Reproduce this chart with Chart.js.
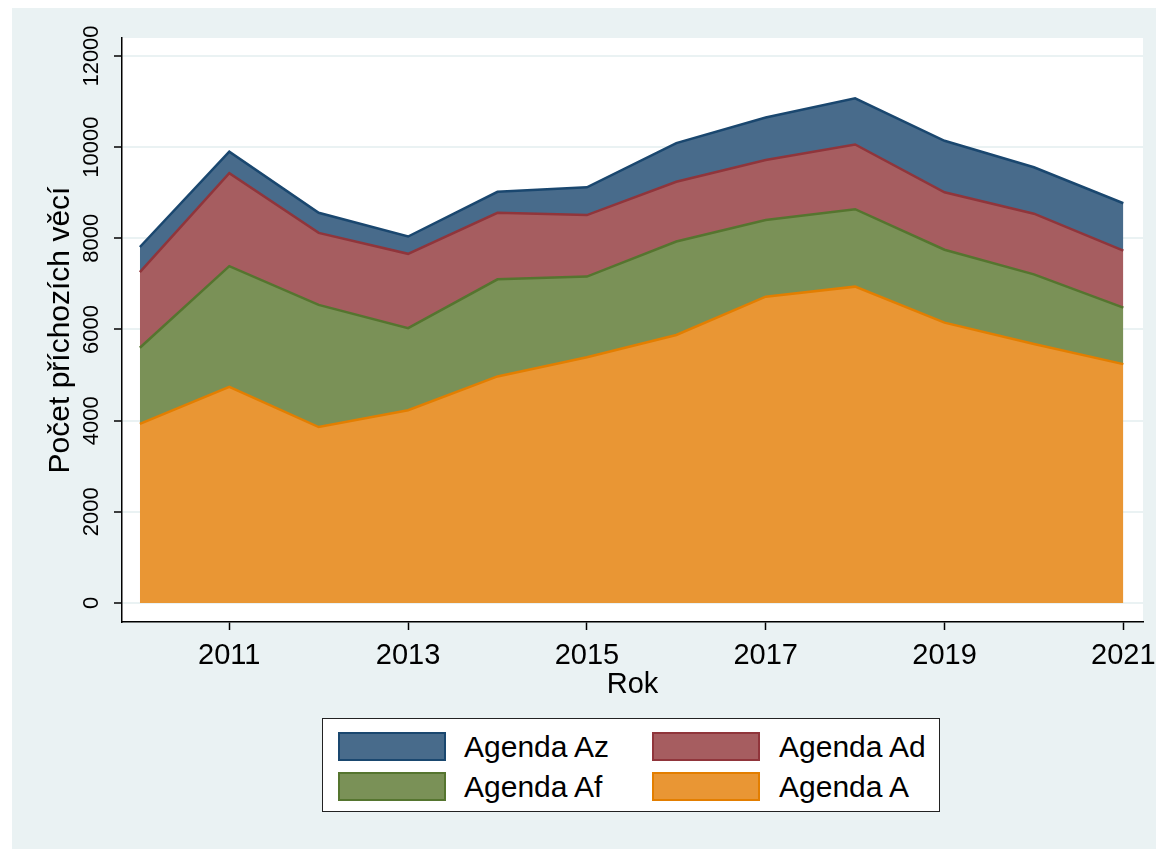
<!DOCTYPE html>
<html>
<head>
<meta charset="utf-8">
<script src="https://cdn.jsdelivr.net/npm/chart.js@4"></script>
<style>
  html, body { margin: 0; padding: 0; background: #fff; }
  body { width: 1156px; height: 849px; position: relative; overflow: hidden;
         font-family: "Liberation Sans", Arial, sans-serif; }
  #bg { position: absolute; left: 12px; top: 8px; right: 0; bottom: 0; background: #eaf2f3; }
  #chart { position: absolute; left: 0; top: 0; }
  #legend { position: absolute; left: 322px; top: 718px; width: 616px; height: 92px;
            background: #fff; border: 1.5px solid #222; }
  .sw { position: absolute; width: 104px; height: 25px; border: 2px solid; }
  .lab { position: absolute; height: 29px; line-height: 29px; font-size: 30px; color: #000; white-space: nowrap; }
</style>
</head>
<body>
<div id="bg"></div>
<canvas id="chart" width="1156" height="849"></canvas>
<div id="legend"></div>
<script>
var years = [2010, 2011, 2012, 2013, 2014, 2015, 2016, 2017, 2018, 2019, 2020, 2021];
var agendaA  = [3930, 4740, 3860, 4230, 4970, 5390, 5880, 6720, 6940, 6150, 5680, 5240];
var agendaAf = [1670, 2650, 2680, 1800, 2130, 1770, 2050, 1680, 1700, 1600, 1530, 1240];
var agendaAd = [1660, 2040, 1580, 1630, 1460, 1350, 1310, 1320, 1420, 1260, 1330, 1250];
var agendaAz = [ 550,  470,  440,  380,  460,  610,  850,  930, 1010, 1130, 1020, 1040];
var xTicks = [2011, 2013, 2015, 2017, 2019, 2021];
var yTicks = [0, 2000, 4000, 6000, 8000, 10000, 12000];

function pts(vals) {
    return vals.map(function (v, i) { return { x: years[i], y: v }; });
}

var series = [
    { label: "Agenda A",  data: agendaA,  line: "#e37e00", fill: "#e99634" },
    { label: "Agenda Af", data: agendaAf, line: "#55752f", fill: "#7a9157" },
    { label: "Agenda Ad", data: agendaAd, line: "#90353b", fill: "#a65d60" },
    { label: "Agenda Az", data: agendaAz, line: "#1a476f", fill: "#486b8b" }
];

var datasets = series.map(function (s, i) {
    return {
        label: s.label,
        data: pts(s.data),
        borderColor: s.line,
        backgroundColor: s.fill,
        borderWidth: 2.5,
        pointRadius: 0,
        tension: 0,
        fill: i === 0 ? 'origin' : '-1'
    };
});

// white plot region
var plotBg = {
    id: 'plotBg',
    beforeDraw: function (chart) {
        var a = chart.chartArea, c = chart.ctx;
        c.save();
        c.fillStyle = '#fff';
        c.fillRect(a.left, a.top, a.right - a.left, a.bottom - a.top);
        c.restore();
    }
};

var font = "'Liberation Sans', Arial, sans-serif";

var ctx = document.getElementById("chart");
var myChart = new Chart(ctx, {
    type: 'line',
    data: { datasets: datasets },
    plugins: [plotBg],
    options: {
        responsive: false,
        animation: false,
        layout: { padding: { left: 43, top: 38, right: 13, bottom: 161 } },
        plugins: { legend: { display: false }, tooltip: { enabled: false } },
        scales: {
            x: {
                type: 'linear',
                min: 2009.8,
                max: 2021.22,
                afterBuildTicks: function (s) { s.ticks = xTicks.map(function (v) { return { value: v }; }); },
                ticks: {
                    color: '#000',
                    padding: 0,
                    maxRotation: 0,
                    font: { family: font, size: 29, lineHeight: 1.8 },
                    callback: function (v) { return String(v); }
                },
                grid: { drawOnChartArea: false, tickLength: 8, tickColor: '#000', tickWidth: 1.5 },
                border: { color: '#000', width: 1.5 },
                title: {
                    display: true, text: 'Rok', color: '#000',
                    padding: 0,
                    font: { family: font, size: 29, lineHeight: 0.2 }
                }
            },
            y: {
                stacked: true,
                min: -417,
                max: 12395,
                afterBuildTicks: function (s) { s.ticks = yTicks.map(function (v) { return { value: v }; }); },
                ticks: {
                    color: '#000',
                    minRotation: 90,
                    maxRotation: 90,
                    crossAlign: 'center',
                    padding: -8.1,
                    font: { family: font, size: 22 },
                    callback: function (v) { return String(v); }
                },
                grid: { color: '#eaf2f3', lineWidth: 2, tickLength: 8, tickColor: '#000', tickWidth: 1.5 },
                border: { color: '#000', width: 1.5 },
                title: {
                    display: true, text: 'Počet příchozích věcí', color: '#000',
                    padding: { top: 0, bottom: 24.8 },
                    font: { family: font, size: 30 }
                }
            }
        }
    }
});

// legend in Stata order: Az, Ad / Af, A
var legendOrder = [3, 2, 1, 0];
var cols = [{ sw: 15, tx: 141 }, { sw: 329, tx: 456 }];
var rows = [13, 53];
var leg = document.getElementById("legend");
legendOrder.forEach(function (idx, k) {
    var s = series[idx];
    var c = cols[k % 2], r = rows[Math.floor(k / 2)];
    var sw = document.createElement('div');
    sw.className = 'sw';
    sw.style.left = c.sw + 'px';
    sw.style.top = r + 'px';
    sw.style.background = s.fill;
    sw.style.borderColor = s.line;
    leg.appendChild(sw);
    var lb = document.createElement('div');
    lb.className = 'lab';
    lb.style.left = c.tx + 'px';
    lb.style.top = r + 'px';
    lb.textContent = s.label;
    leg.appendChild(lb);
});
</script>
</body>
</html>
